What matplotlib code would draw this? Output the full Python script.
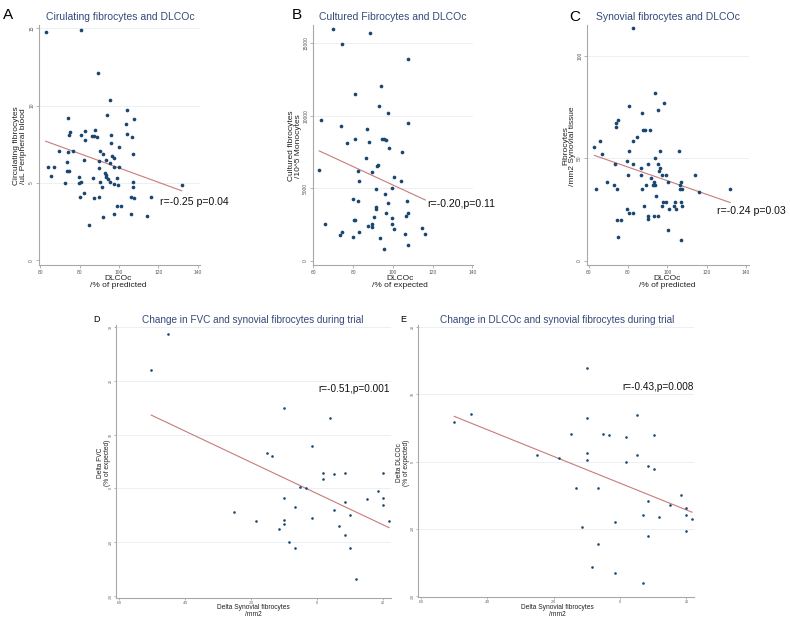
import numpy as np
import matplotlib
matplotlib.use("Agg")
import matplotlib.pyplot as plt

plt.rcParams['font.family'] = ['Liberation Sans', 'DejaVu Sans']

# ---------------- data ----------------
# A: circulating fibrocytes vs DLCOc
a_x = [62.7, 80.6, 89.1, 95.3, 104.2, 94.0, 74.3, 107.6, 103.7, 75.1, 74.8, 82.6, 88.0,
       80.6, 87.4, 86.5, 88.7, 82.6, 96.1, 104.2, 106.4, 95.9, 100.0, 69.5, 73.8, 76.6,
       90.2, 91.8, 107.1, 96.2, 97.7, 93.3, 82.1, 89.6, 73.6, 95.3, 64.0, 66.9, 89.9,
       97.5, 100.2, 73.6, 74.4, 92.8, 93.5, 93.2, 65.4, 79.5, 86.7, 99.0, 94.3, 95.3,
       90.2, 107.2, 72.6, 80.6, 79.5, 97.7, 99.4, 91.3, 107.2, 131.9, 82.4, 80.0, 87.4,
       89.6, 106.2, 107.6, 116.2, 99.2, 100.9, 97.5, 106.2, 114.2, 91.8, 84.8]
a_y = [14.76, 14.87, 12.07, 10.38, 9.74, 9.36, 9.19, 9.10, 8.78, 8.29, 8.08, 8.35, 8.40,
       8.12, 8.03, 8.01, 7.99, 7.80, 8.08, 8.18, 7.97, 7.59, 7.33, 7.09, 7.03, 7.09,
       7.09, 6.90, 6.86, 6.75, 6.60, 6.47, 6.50, 6.39, 6.32, 6.26, 6.00, 6.00, 5.94,
       6.00, 6.00, 5.79, 5.79, 5.62, 5.49, 5.36, 5.43, 5.41, 5.30, 5.32, 5.24, 5.09,
       5.09, 5.09, 5.00, 5.09, 5.00, 4.96, 4.87, 4.76, 4.76, 4.89, 4.32, 4.10, 4.00,
       4.12, 4.06, 4.00, 4.12, 3.50, 3.50, 2.99, 2.99, 2.88, 2.80, 2.26]

# B: cultured fibrocytes vs DLCOc
b_x = [69.7, 88.6, 74.5, 107.7, 94.0, 80.8, 93.2, 97.6, 63.9, 107.5, 73.8, 87.2, 80.8,
       94.7, 95.6, 96.6, 76.9, 87.9, 98.1, 104.4, 86.7, 92.7, 92.0, 62.9, 89.6, 82.5,
       100.5, 104.1, 82.8, 99.7, 91.7, 96.1, 79.7, 82.6, 107.1, 97.5, 91.3, 91.3, 96.6,
       107.7, 106.5, 90.5, 99.7, 80.8, 80.3, 65.6, 89.6, 99.7, 87.4, 89.6, 114.5, 100.5,
       74.6, 82.8, 106.3, 116.3, 73.6, 79.9, 93.5, 107.5, 95.6]
b_y = [16000, 15680, 14930, 13920, 12025, 11500, 10650, 10170, 9715, 9510, 9280, 9050,
       8410, 8410, 8365, 8300, 8115, 8185, 7795, 7500, 7110, 6585, 6515, 6265, 6125,
       6150, 5740, 5465, 5465, 4985, 4940, 4595, 4230, 4140, 4115, 4000, 3680, 3565,
       3315, 3270, 3065, 3020, 2925, 2835, 2810, 2560, 2560, 2515, 2355, 2310, 2285,
       2150, 1990, 1945, 1850, 1805, 1760, 1600, 1575, 1075, 800]

# C: synovial fibrocytes vs DLCOc
c_x = [82.7, 93.8, 98.1, 80.6, 95.4, 87.2, 75.2, 74.0, 74.0, 87.9, 88.9, 91.3, 84.7,
       65.6, 82.7, 63.0, 80.6, 96.3, 106.0, 66.8, 93.5, 79.5, 73.5, 82.7, 90.3, 95.4,
       86.5, 96.2, 96.0, 79.8, 86.5, 97.4, 99.4, 114.1, 91.6, 69.5, 93.1, 100.4, 107.2,
       72.9, 89.3, 92.5, 93.7, 106.2, 63.9, 74.5, 87.2, 106.2, 107.5, 131.9, 116.2,
       94.3, 97.7, 99.1, 104.0, 107.2, 88.4, 97.2, 103.5, 107.4, 101.1, 104.3, 79.5,
       80.6, 82.5, 90.4, 93.1, 95.4, 90.3, 74.5, 76.7, 100.3, 74.7, 107.2]
c_y = [113.6, 82.0, 77.1, 75.3, 73.7, 71.9, 68.7, 67.0, 65.4, 63.6, 63.6, 63.6, 60.4,
       58.6, 58.6, 55.4, 53.7, 53.7, 53.7, 52.1, 50.3, 48.5, 47.1, 47.1, 47.1, 47.1,
       45.3, 45.3, 43.7, 42.0, 42.0, 42.0, 42.0, 42.0, 40.3, 38.5, 38.5, 38.5, 38.5,
       36.9, 36.9, 36.9, 36.9, 36.9, 35.1, 35.1, 35.1, 35.1, 35.1, 35.1, 33.4, 31.8,
       28.6, 28.6, 28.6, 28.6, 26.9, 26.9, 26.9, 26.9, 25.3, 25.3, 25.2, 23.5, 23.5,
       21.9, 21.9, 21.9, 20.3, 20.1, 20.1, 15.3, 11.7, 10.2]

# D: change in FVC vs change in synovial fibrocytes
d_x = [-45.3, -50.3, -10.1, 3.8, -1.7, -15.2, -13.6, 1.7, 8.4, 20.1, 5.1, 1.7, -5.1,
       -3.3, 18.4, -10.1, 15.0, 20.1, 8.4, 20.1, -6.7, -25.3, 5.1, 10.1, -1.7, -18.5,
       -10.1, 21.8, -10.1, 6.7, -11.7, 8.4, -8.4, -6.7, 10.1, 11.8]
d_y = [28.7, 21.9, 14.9, 13.0, 7.9, 6.5, 6.0, 2.9, 2.9, 2.9, 2.6, 1.8, 0.3, 0.0, -0.5,
       -1.8, -2.0, -1.8, -2.5, -3.0, -3.4, -4.4, -4.0, -5.0, -5.4, -6.0, -5.8, -6.0,
       -6.6, -7.0, -7.5, -8.6, -10.0, -11.0, -11.0, -16.8]

# E: change in DLCOc vs change in synovial fibrocytes
e_x = [-9.9, 5.2, -44.8, -9.9, -50.0, -14.9, -5.0, -3.3, 1.8, 10.1, -25.0, -9.9, 5.1,
       -18.3, -9.9, 1.8, 8.4, 10.1, -13.3, -6.7, 18.4, 8.4, 15.0, 20.0, 6.8, 20.0, 11.7,
       21.7, -1.6, -11.6, 20.0, 8.4, -6.7, -8.4, -1.6, 6.8]
e_y = [13.9, 6.9, 7.0, 6.4, 5.9, 4.1, 4.1, 3.9, 3.7, 3.9, 1.0, 1.2, 1.0, 0.5, 0.2, 0.0,
       -0.6, -1.1, -4.0, -4.0, -4.9, -5.9, -6.5, -6.9, -8.0, -8.0, -8.2, -8.6, -9.0,
       -9.7, -10.3, -11.0, -12.3, -15.7, -16.6, -18.0]

# tick labels
top_xticks = [60, 80, 100, 120, 140]
a_yticks = [0, 5, 10, 15]
b_yticks = [0, 5000, 10000, 15000]
c_yticks = [0, 50, 100]
bot_xticks = [-60, -40, -20, 0, 20]
d_yticks = [-20, -10, 0, 10, 20, 30]
e_yticks = [-20, -10, 0, 10, 20]

# ---------------- style ----------------
W, H = 790, 625
dot_col = '#1a476f'
fit_col = '#c97a7a'
title_col = '#34497a'
grid_col = '#e6eef1'
spine_col = '#a8a8a8'


def px(x, y):
    # pixel position (from top-left) -> figure fraction
    return x / W, 1 - y / H


def make_ax(fig, l, t, r, b):
    ax = fig.add_axes([l / W, 1 - b / H, (r - l) / W, (b - t) / H])
    for s in ['top', 'right']:
        ax.spines[s].set_visible(False)
    for s in ['left', 'bottom']:
        ax.spines[s].set_color(spine_col)
        ax.spines[s].set_linewidth(0.8)
    ax.tick_params(colors=spine_col, length=2, width=0.6, pad=1.5)
    return ax


def scatter_panel(ax, x, y, xt, yt, xlim, ylim, msize, tsize):
    x = np.array(x)
    y = np.array(y)
    for v in yt[1:]:
        ax.axhline(v, color=grid_col, lw=0.6, zorder=0)
    ax.scatter(x, y, s=msize, color=dot_col, linewidths=0, zorder=3)
    k, c = np.polyfit(x, y, 1)
    xs = np.array([x.min(), x.max()])
    ax.plot(xs, k * xs + c, color=fit_col, lw=0.8, zorder=2)
    ax.set_xticks(xt)
    ax.set_yticks(yt)
    ax.set_xlim(*xlim)
    ax.set_ylim(*ylim)
    ax.set_xticklabels([str(v) for v in xt], fontsize=tsize, color='#555555')
    ax.set_yticklabels([str(v) for v in yt], fontsize=tsize, color='#555555',
                       rotation=90, va='center')


fig = plt.figure(figsize=(7.9, 6.25), dpi=100)

# ---- top row ----
axA = make_ax(fig, 39, 25, 200, 265)
scatter_panel(axA, a_x, a_y, top_xticks, a_yticks, (59.3, 141.2), (-0.3, 15.2), 7, 3.5)
axB = make_ax(fig, 313, 25, 473, 265)
scatter_panel(axB, b_x, b_y, top_xticks, b_yticks, (59.8, 140.3), (-300, 16250), 7, 3.5)
axC = make_ax(fig, 587, 25, 749, 265)
scatter_panel(axC, c_x, c_y, top_xticks, c_yticks, (59.2, 141.5), (-2, 115), 7, 3.5)

tops = [
    (axA, 'A', 8, 15, 'Cirulating fibrocytes and DLCOc', 120,
     'Circulating fibrocytes\n/uL Peripheral blood', 20, 'DLCOc\n/% of predicted', 118,
     'r=-0.25 p=0.04', 160, 202),
    (axB, 'B', 297, 15, 'Cultured Fibrocytes and DLCOc', 393,
     'Cultured fibrocytes\n/10^5 Monocytes', 295, 'DLCOc\n/% of expected', 400,
     'r=-0.20,p=0.11', 427, 204),
    (axC, 'C', 575, 17, 'Synovial fibrocytes and DLCOc', 668,
     'Fibrocytes\n/mm2 Synovial tissue', 569, 'DLCOc\n/% of predicted', 667,
     'r=-0.24 p=0.03', 717, 211),
]
for ax, letter, lx, ly, title, tx, ylab, yx, xlab, xx, note, nx, ny in tops:
    fig.text(*px(lx, ly), letter, fontsize=11, ha='center', va='center', color='black')
    fig.text(*px(tx, 17), title, fontsize=7.5, ha='center', va='center', color=title_col)
    fig.text(*px(yx, 146), ylab, fontsize=6, ha='center', va='center', rotation=90,
             multialignment='center', color='#222222', linespacing=1.0)
    fig.text(*px(xx, 282), xlab, fontsize=6, ha='center', va='center',
             multialignment='center', color='#222222', linespacing=1.0)
    fig.text(*px(nx, ny), note, fontsize=7.6, ha='left', va='center', color='#111111')

# ---- bottom row ----
axD = make_ax(fig, 116, 325, 391, 598)
scatter_panel(axD, d_x, d_y, bot_xticks, d_yticks, (-61.0, 22.4), (-20.3, 30.3), 3.5, 2.5)
axE = make_ax(fig, 418, 325, 694, 597)
scatter_panel(axE, e_x, e_y, bot_xticks, e_yticks, (-60.9, 22.3), (-20.1, 20.25), 3.5, 2.5)
for ax in (axD, axE):
    ax.tick_params(length=1.5, pad=1)

bots = [
    ('D', 97, 'Change in FVC and synovial fibrocytes during trial', 253,
     'Delta FVC\n(% of expected)', 104, 'r=-0.51,p=0.001', 390, 389),
    ('E', 403, 'Change in DLCOc and synovial fibrocytes during trial', 557,
     'Delta DLCOc\n(% of expected)', 403, 'r=-0.43,p=0.008', 694, 387),
]
for letter, lx, title, tx, ylab, yx, note, nx, ny in bots:
    fig.text(*px(lx, 319), letter, fontsize=6.5, ha='center', va='center', color='black')
    fig.text(*px(tx, 320), title, fontsize=7.2, ha='center', va='center', color=title_col)
    fig.text(*px(yx, 463), ylab, fontsize=4.8, ha='center', va='center', rotation=90,
             multialignment='center', color='#222222', linespacing=1.0)
    fig.text(*px(tx, 611), 'Delta Synovial fibrocytes\n/mm2', fontsize=4.8, ha='center',
             va='center', multialignment='center', color='#222222', linespacing=1.0)
    fig.text(*px(nx, ny), note, fontsize=7.2, ha='right', va='center', color='#111111')

fig.savefig('out.png', dpi=100, facecolor='white')
